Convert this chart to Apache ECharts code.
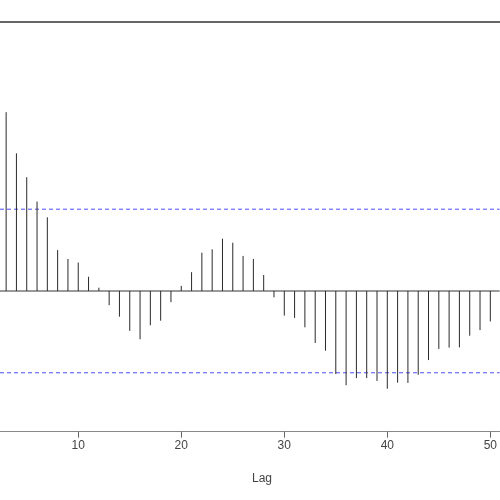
<!DOCTYPE html>
<html>
<head>
<meta charset="utf-8">
<script src="https://cdn.jsdelivr.net/npm/echarts@6/dist/echarts.min.js"></script>
<style>html,body{margin:0;padding:0;background:#fff}#c{width:500px;height:500px}</style>
</head>
<body>
<div id="c"></div>
<script>
// Visible lags (lags 0-2 fall left of the cropped view)
const lags = [3,4,5,6,7,8,9,10,11,12,13,14,15,16,17,18,19,20,21,22,23,24,25,26,27,28,29,30,31,32,33,34,35,36,37,38,39,40,41,42,43,44,45,46,47,48,49,50];
const acfValues = [0.704,0.542,0.448,0.352,0.290,0.161,0.126,0.112,0.056,0.013,-0.056,-0.101,-0.157,-0.190,-0.135,-0.117,-0.044,0.020,0.074,0.151,0.164,0.206,0.190,0.138,0.126,0.063,-0.025,-0.097,-0.106,-0.143,-0.205,-0.235,-0.327,-0.371,-0.343,-0.343,-0.354,-0.385,-0.361,-0.362,-0.330,-0.272,-0.228,-0.223,-0.222,-0.176,-0.154,-0.120];
const ciBounds = [0.322, -0.322];
const xTicks = [10,20,30,40,50];
const xLabel = 'Lag';

const data = lags.map((l,i)=>[l, acfValues[i]]);
const font = 'Liberation Sans, Arial, sans-serif';

const chart = echarts.init(document.getElementById('c'), null, {renderer:'canvas'});
chart.setOption({
  animation:false,
  backgroundColor:'#fff',
  grid:{left:0,right:0,top:22,bottom:68.3},
  xAxis:[{
    type:'value', position:'bottom', min:2.405, max:50.90,
    axisLine:{show:true, onZero:false, lineStyle:{color:'#888', width:1}},
    axisTick:{show:true, length:6, customValues:xTicks, lineStyle:{color:'#666'}},
    axisLabel:{show:true, customValues:xTicks, margin:8, fontSize:12, color:'#444', fontFamily:font},
    splitLine:{show:false}
  },{
    type:'value', position:'top', min:2.405, max:50.90,
    axisLine:{show:true, onZero:false, lineStyle:{color:'#666', width:2}},
    axisTick:{show:false}, axisLabel:{show:false}, splitLine:{show:false}
  }],
  yAxis:{
    type:'value', min:-0.554, max:1.059, show:false, splitLine:{show:false}
  },
  graphic:[{
    type:'text', left:252, top:473,
    style:{text:xLabel, fontSize:12, fill:'#444', fontFamily:font}
  }],
  series:[{
    type:'custom',
    xAxisIndex:0,
    data:ciBounds.map(v=>[v]),
    encode:{y:0},
    z:2,
    renderItem:function(params, api){
      const cs = params.coordSys;
      const p = api.coord([2.405, api.value(0)]);
      return {type:'line', shape:{x1:cs.x, y1:p[1], x2:cs.x+cs.width, y2:p[1]},
              style:{stroke:'#4d4dff', lineWidth:1, lineDash:[4,3]}};
    }
  },{
    type:'custom',
    xAxisIndex:0,
    data:[[0]],
    encode:{y:0},
    z:3,
    renderItem:function(params, api){
      const cs = params.coordSys;
      const p = api.coord([2.405, api.value(0)]);
      return {type:'line', shape:{x1:cs.x, y1:p[1], x2:cs.x+cs.width, y2:p[1]},
              style:{stroke:'#777', lineWidth:1.5}};
    }
  },{
    type:'custom',
    xAxisIndex:0,
    data:data,
    z:4,
    renderItem:function(params, api){
      const p0 = api.coord([api.value(0), 0]);
      const p1 = api.coord([api.value(0), api.value(1)]);
      return {type:'line', shape:{x1:p0[0], y1:p0[1], x2:p1[0], y2:p1[1]}, style:{stroke:'#2a2a2a', lineWidth:1}};
    }
  }]
});
</script>
</body>
</html>
